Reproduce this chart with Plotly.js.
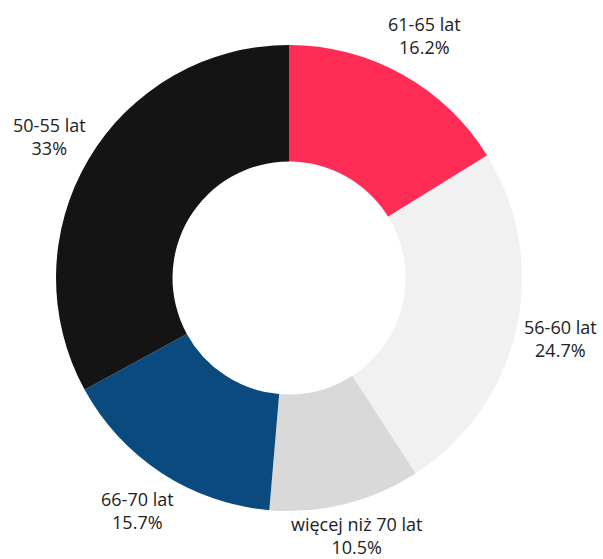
<!DOCTYPE html>
<html><head><meta charset="utf-8">
<script src="https://cdn.plot.ly/plotly-3.0.1.min.js"></script>
<style>html,body{margin:0;padding:0;background:#fff}#chart{width:603px;height:559px}</style>
</head><body><div id="chart"></div>
<script>
const categories = ["61-65 lat", "56-60 lat", "więcej niż 70 lat", "66-70 lat", "50-55 lat"];
const values = [16.2, 24.7, 10.5, 15.7, 33];
const colors = ["#ff2d55", "#f1f1f1", "#d9d9d9", "#0a4a7f", "#141414"];

const W = 603, H = 559;
const dom = {x: [0.0929, 0.8657], y: [0.0859, 0.9195]};
const cx = (dom.x[0] + dom.x[1]) / 2 * W;
const cy = (1 - (dom.y[0] + dom.y[1]) / 2) * H;
const R = Math.min((dom.x[1] - dom.x[0]) * W, (dom.y[1] - dom.y[0]) * H) / 2;
const labelR = R + 45;

const total = values.reduce((a, b) => a + b, 0);
let acc = 0;
const annotations = values.map((v, i) => {
  const mid = (acc + v / 2) / total * 2 * Math.PI;
  acc += v;
  const px = cx + labelR * Math.sin(mid);
  let py = cy - labelR * Math.cos(mid);
  py = Math.max(24, Math.min(H - 24, py));
  return {
    xref: "paper", yref: "paper",
    x: px / W, y: 1 - py / H,
    xanchor: "center", yanchor: "middle",
    text: categories[i] + "<br>" + v + "%",
    showarrow: false, align: "center",
    font: {family: "Open Sans", size: 18, color: "#222"}
  };
});

Plotly.newPlot("chart", [{
  type: "pie",
  labels: categories,
  values: values,
  sort: false,
  direction: "clockwise",
  rotation: 0,
  hole: 0.5,
  marker: {colors: colors, line: {width: 0}},
  textinfo: "none",
  hoverinfo: "label+value",
  domain: dom,
  showlegend: false
}], {
  width: W, height: H,
  margin: {l: 0, r: 0, t: 0, b: 0},
  paper_bgcolor: "#fff",
  font: {family: "Open Sans"},
  annotations: annotations
}, {displayModeBar: false});
</script></body></html>
